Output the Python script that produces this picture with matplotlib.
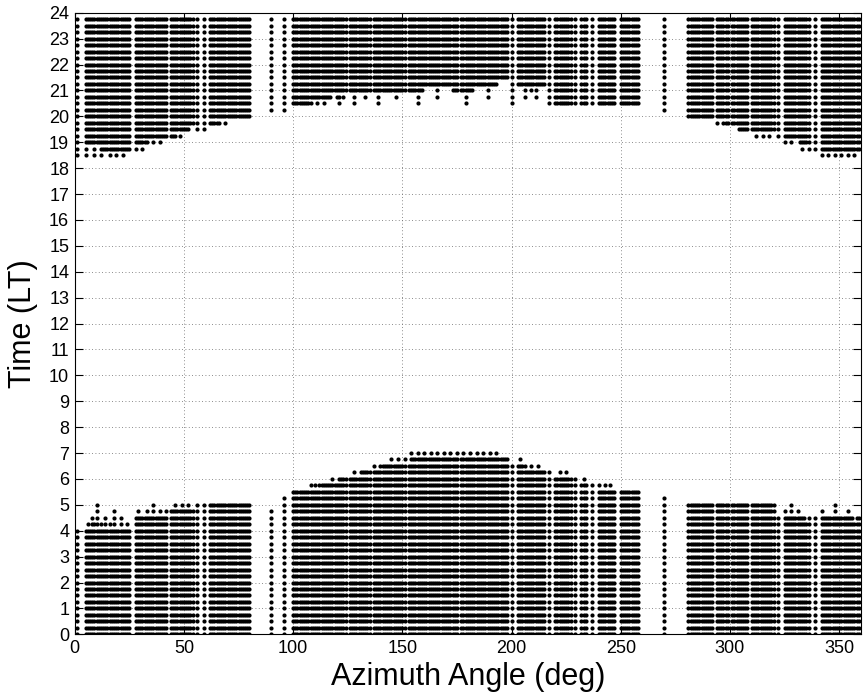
import numpy as np
import matplotlib
matplotlib.use("Agg")
import matplotlib.pyplot as plt

plt.rcParams['font.family'] = ['Liberation Sans', 'DejaVu Sans']

# Azimuth rays (deg, inclusive runs on a 1-degree raster) that carry observations
azimuth_runs = [
    (1, 1), (5, 25), (28, 42), (44, 54), (56, 56), (59, 59), (62, 80),
    (90, 90), (96, 96),
    (100, 124), (126, 135), (137, 151), (153, 175), (177, 198), (200, 200),
    (203, 215), (217, 217), (220, 227), (229, 229), (232, 234), (237, 237),
    (240, 247), (250, 258),
    (270, 270),
    (281, 292), (294, 299), (301, 308), (310, 320), (322, 322), (325, 336),
    (339, 339), (342, 359),
]

# Last local time (h) of the morning window: (az_from, az_to, hour); later entries win
morning_end = [
    (1, 1, 4.0),
    (5, 25, 4.0), (6, 6, 4.25), (8, 8, 4.5), (9, 9, 4.25), (10, 10, 5.0),
    (12, 12, 4.25), (14, 14, 4.5), (16, 16, 4.25), (18, 18, 4.75),
    (21, 21, 4.5), (24, 24, 4.25),
    (28, 42, 4.5), (29, 29, 4.75), (33, 33, 4.75), (36, 36, 5.0),
    (39, 39, 4.75), (42, 42, 4.75),
    (44, 54, 4.75), (46, 46, 5.0), (49, 49, 5.0), (52, 52, 5.0),
    (56, 56, 5.0), (59, 59, 5.0), (62, 80, 5.0),
    (90, 90, 4.75), (96, 96, 5.25),
    (100, 258, 5.5),
    (108, 108, 5.75), (110, 110, 5.75), (243, 243, 5.75), (245, 245, 5.75),
    (112, 240, 5.75),
    (118, 118, 6.0), (231, 231, 6.0), (233, 233, 6.0), (121, 229, 6.0),
    (128, 128, 6.25), (222, 222, 6.25), (225, 225, 6.25), (131, 219, 6.25),
    (137, 137, 6.5), (209, 209, 6.5), (212, 212, 6.5), (140, 206, 6.5),
    (145, 145, 6.75), (148, 148, 6.75), (151, 151, 6.75), (202, 202, 6.75),
    (204, 204, 6.75), (154, 199, 6.75),
    (154, 154, 7.0), (157, 157, 7.0), (160, 160, 7.0), (163, 163, 7.0),
    (166, 166, 7.0), (169, 169, 7.0), (172, 172, 7.0), (175, 175, 7.0),
    (178, 178, 7.0), (181, 181, 7.0), (184, 184, 7.0), (187, 187, 7.0),
    (190, 190, 7.0), (193, 193, 7.0),
    (270, 270, 5.25),
    (281, 320, 5.0), (322, 359, 4.5), (325, 325, 4.75), (328, 328, 5.0),
    (331, 331, 4.75), (335, 335, 4.25), (339, 339, 4.5), (342, 342, 4.75),
    (345, 345, 4.5), (348, 348, 5.0), (351, 351, 4.5), (354, 354, 4.75),
    (357, 357, 4.25),
]

# First local time (h) of the evening window: (az_from, az_to, hour); later entries win
evening_start = [
    (1, 80, 20.0), (1, 66, 19.75), (69, 69, 19.75),
    (1, 52, 19.5), (56, 56, 19.5), (59, 59, 19.5),
    (1, 46, 19.25), (48, 48, 19.25),
    (1, 33, 19.0), (36, 36, 19.0), (39, 39, 19.0),
    (12, 25, 18.75), (5, 5, 18.75), (9, 9, 18.75), (28, 28, 18.75), (31, 31, 18.75),
    (1, 1, 18.5), (5, 5, 18.5), (9, 9, 18.5), (12, 12, 18.5), (16, 16, 18.5),
    (19, 19, 18.5), (22, 22, 18.5),
    (90, 90, 20.25), (96, 96, 20.25),
    (100, 258, 21.0), (100, 117, 20.75), (100, 108, 20.5),
    (111, 111, 20.5), (114, 114, 20.5), (120, 120, 20.75), (121, 121, 20.5),
    (123, 123, 20.75), (128, 128, 20.5), (133, 133, 20.75), (139, 139, 20.5),
    (147, 147, 20.75), (157, 157, 20.5), (160, 172, 21.25), (166, 166, 20.75),
    (179, 179, 20.5), (183, 193, 21.25), (189, 189, 20.75), (194, 198, 21.5),
    (200, 200, 20.5), (203, 215, 21.25), (206, 206, 20.75), (209, 209, 21.0),
    (211, 211, 20.75), (217, 258, 20.5),
    (270, 270, 20.25),
    (281, 359, 20.0), (297, 359, 19.75), (294, 294, 19.75),
    (304, 359, 19.5),
    (321, 359, 19.25), (312, 312, 19.25), (315, 315, 19.25), (318, 318, 19.25),
    (332, 359, 19.0), (321, 321, 19.0), (325, 325, 19.0), (328, 328, 19.0),
    (342, 359, 18.75), (333, 333, 18.75), (336, 336, 18.75), (339, 339, 18.75),
    (342, 342, 18.5), (345, 345, 18.5), (348, 348, 18.5), (351, 351, 18.5),
    (354, 354, 18.5), (357, 357, 18.5),
]

time_step_h = 0.25

az = np.concatenate([np.arange(a, b + 1) for a, b in azimuth_runs]).astype(float)
hours = np.arange(0, 24, time_step_h)


def per_ray(runs):
    out = np.full(az.shape, np.nan)
    for lo, hi, val in runs:
        out[(az >= lo) & (az <= hi)] = val
    return out


m_end = per_ray(morning_end)
e_start = per_ray(evening_start)

px, py = [], []
for a, me, es in zip(az, m_end, e_start):
    sel = hours[(hours <= me + 1e-9) | (hours >= es - 1e-9)]
    px.append(np.full(sel.shape, a))
    py.append(sel)
px = np.concatenate(px)
py = np.concatenate(py)

fig = plt.figure(figsize=(8.63, 6.98), dpi=100)
ax = fig.add_axes([74.7 / 863, (698 - 634.3) / 698, (861 - 74.7) / 863, (634.3 - 12.7) / 698])
ax.scatter(px, py, s=9, c='k', marker='o', linewidths=0, zorder=3)

ax.set_xlim(0, 360)
ax.set_ylim(0, 24)
ax.set_xticks(np.arange(0, 351, 50))
ax.set_yticks(np.arange(0, 25, 1))
ax.grid(True, linestyle=(0, (1, 3)), color='0.4', linewidth=0.6)
ax.set_axisbelow(True)
ax.tick_params(direction='in', top=True, right=True, length=6, width=0.8,
               labelsize=13, pad=4)
for sp in ax.spines.values():
    sp.set_linewidth(0.8)

ax.set_xlabel('Azimuth Angle (deg)', fontsize=22, labelpad=4)
ax.set_ylabel('Time (LT)', fontsize=22, labelpad=8)

fig.savefig('out.png', dpi=100)
